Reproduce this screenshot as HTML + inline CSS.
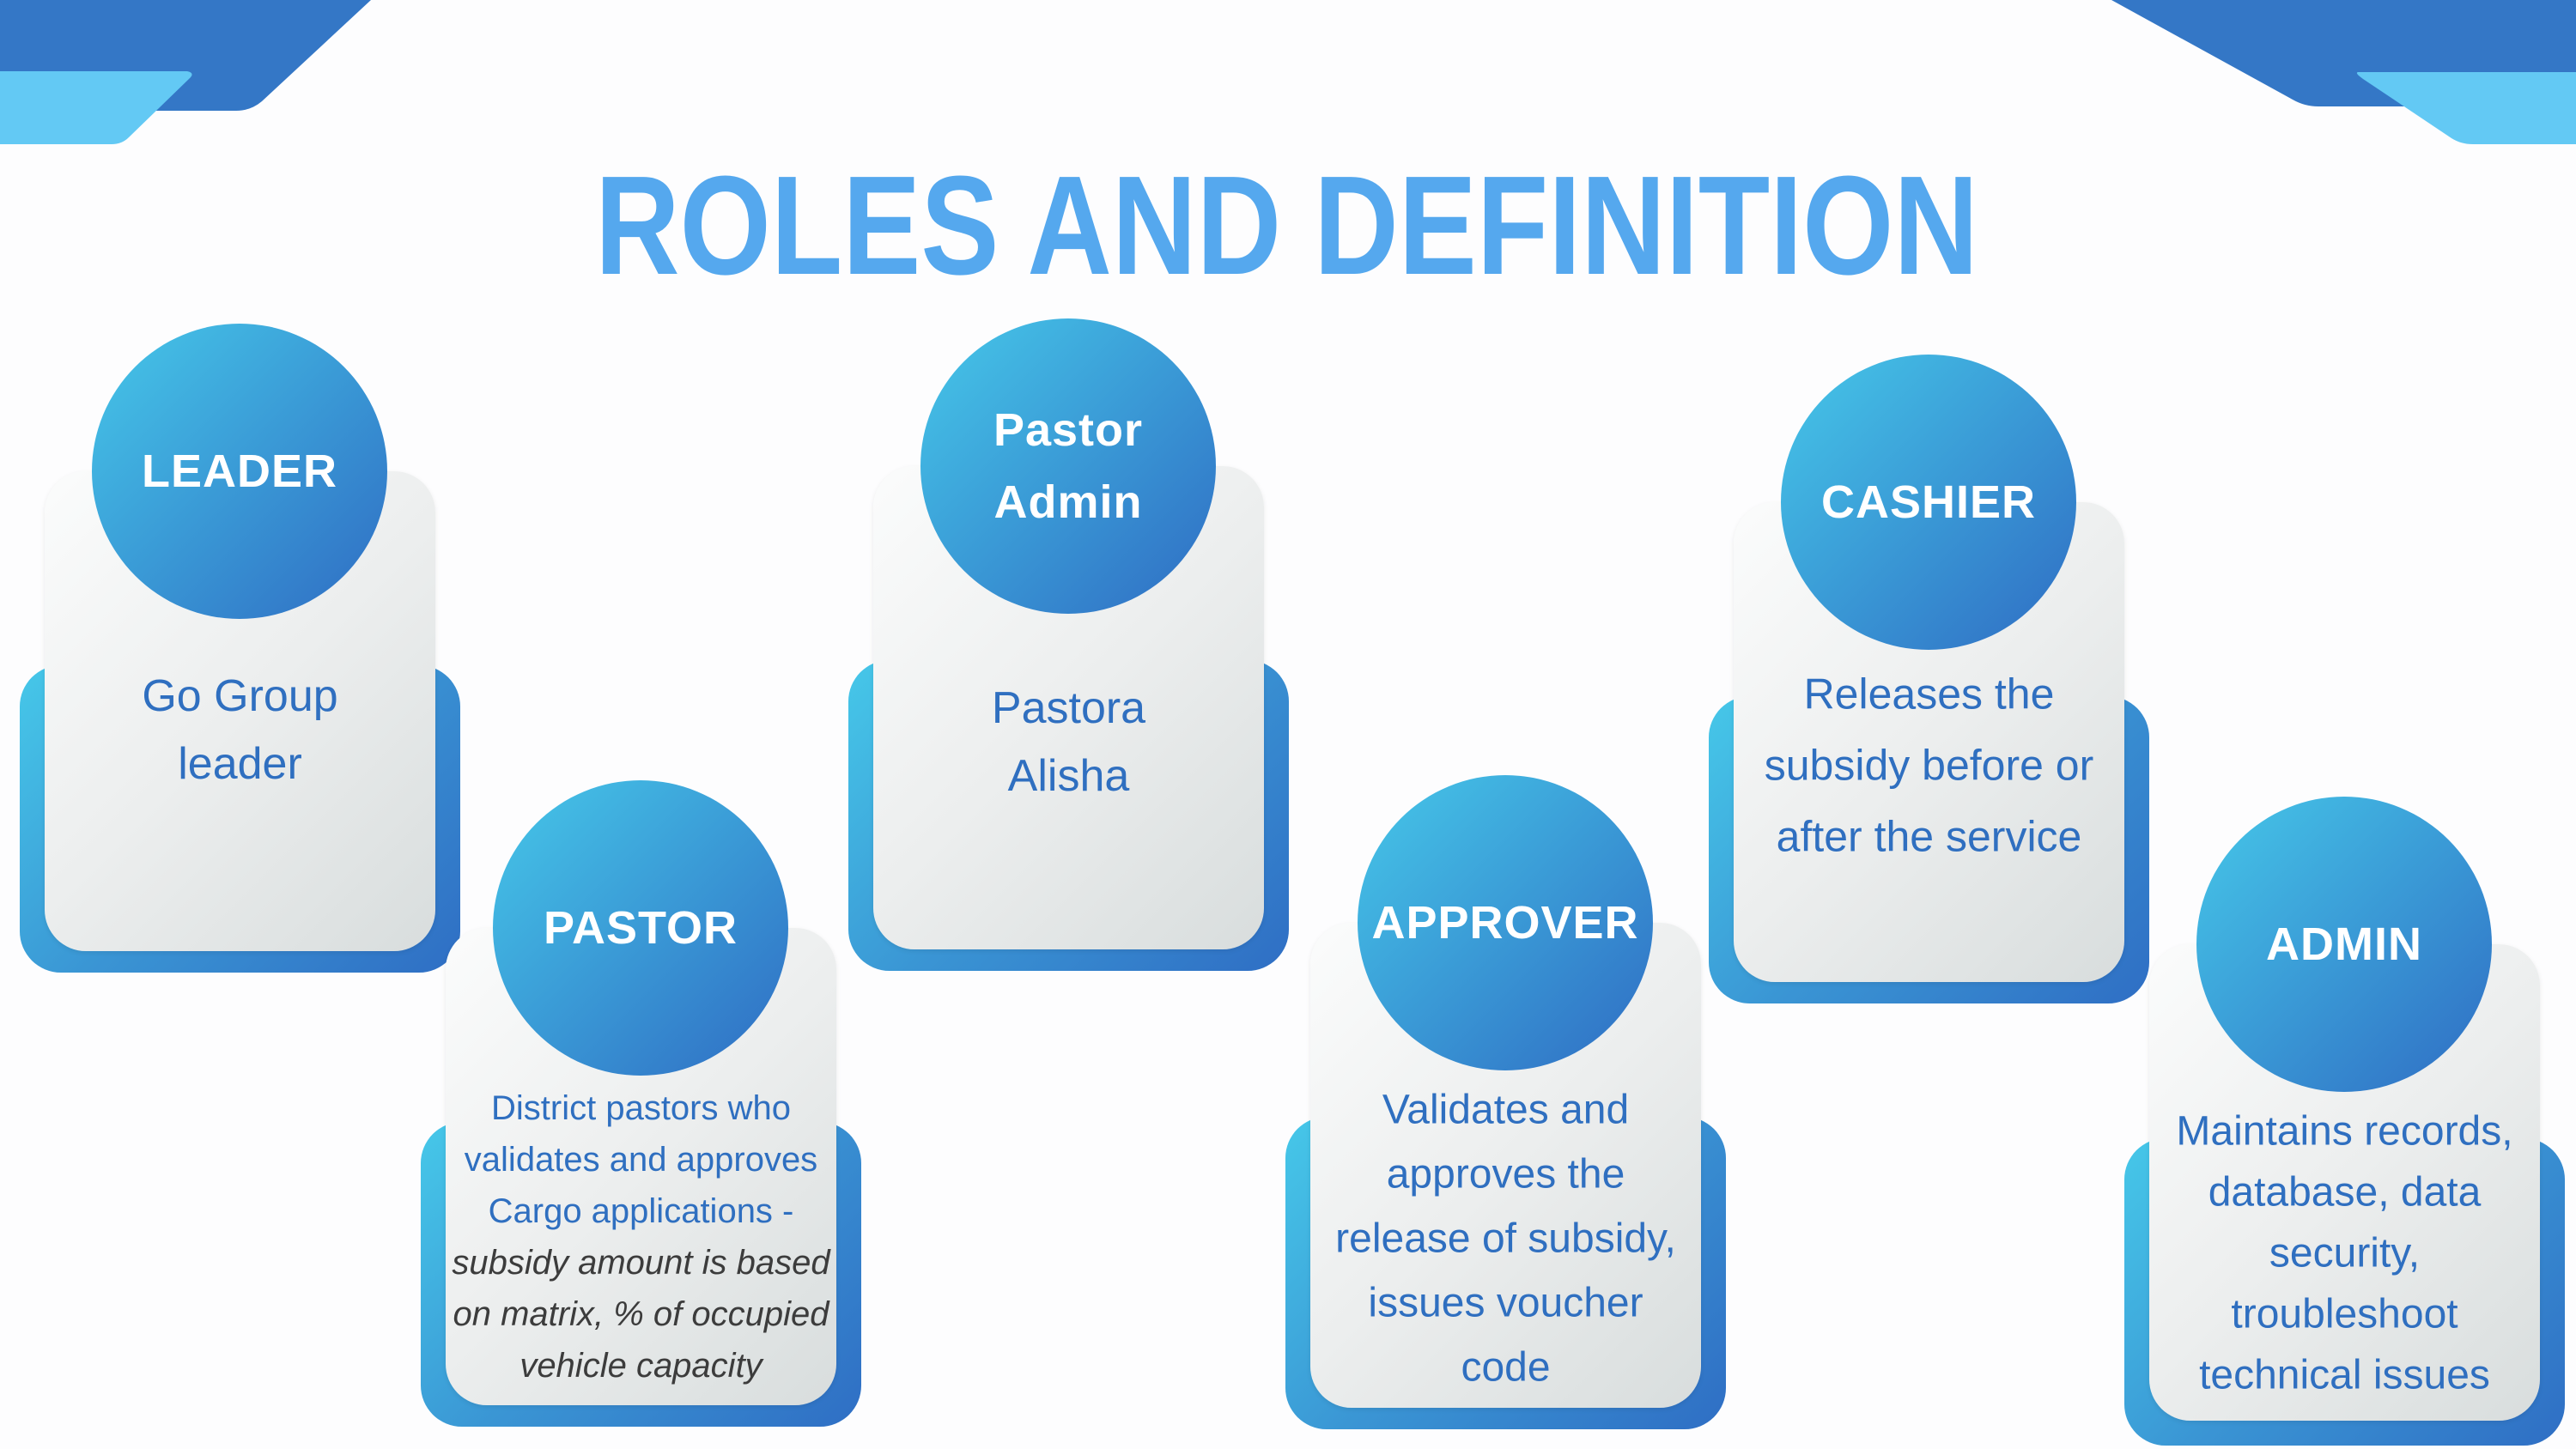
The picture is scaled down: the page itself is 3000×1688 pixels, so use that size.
<!DOCTYPE html>
<html><head><meta charset="utf-8"><style>
html,body{margin:0;padding:0}
body{width:3000px;height:1688px;position:relative;overflow:hidden;background:#fdfdfe;font-family:"Liberation Sans",sans-serif}
.blue{position:absolute;border-radius:48px;background:linear-gradient(135deg,#46c8e9 0%,#3a95d4 50%,#2f6ec4 100%)}
.card{position:absolute;border-radius:48px;background:linear-gradient(135deg,#fbfcfc 0%,#eceeee 50%,#d8dddd 100%);box-shadow:0 2px 6px rgba(0,0,0,.08)}
.circ{position:absolute;width:344px;height:344px;border-radius:50%;background:linear-gradient(135deg,#46c8e9 0%,#3a9ad6 50%,#2f6cc3 100%);color:#fff;font-weight:bold;font-size:54px;display:flex;align-items:center;justify-content:center;text-align:center;line-height:84px;letter-spacing:1px}
.txt{position:absolute;width:455px;text-align:center;color:#2f6fc0;transform:translateY(-50%);white-space:nowrap}
</style></head><body>
<svg width="3000" height="400" style="position:absolute;left:0;top:0">
<path d="M0 0 H432 L305 118 Q292 129 275 129 H0 Z" fill="#3477c6"/>
<path d="M0 83 H218 Q228 85 220 92 L150 160 Q142 168 130 168 H0 Z" fill="#63c9f4"/>
<path d="M2459 0 H3000 V124 H2700 Q2684 124 2670 116 Z" fill="#3477c6"/>
<path d="M2746 84 H3000 V168 H2880 Q2866 168 2855 161 L2752 92 Q2742 85 2746 84 Z" fill="#63c9f4"/>
<text x="693" y="319" textLength="1611" lengthAdjust="spacingAndGlyphs" font-family="Liberation Sans" font-weight="bold" font-size="164" fill="#55a8ee">ROLES AND DEFINITION</text>
</svg>

<div class="blue" style="left:23px;top:775px;width:513px;height:358px"></div>
<div class="card" style="left:52px;top:549px;width:455px;height:559px"></div>
<div class="circ" style="left:107px;top:377px">LEADER</div>
<div class="txt" style="left:52px;top:851px;font-size:52px;line-height:79px">Go Group<br>leader</div>

<div class="blue" style="left:490px;top:1307px;width:513px;height:355px"></div>
<div class="card" style="left:519px;top:1081px;width:455px;height:556px"></div>
<div class="circ" style="left:574px;top:909px">PASTOR</div>
<div class="txt" style="left:514px;width:465px;top:1441px;font-size:40px;line-height:60px">District pastors who<br>validates and approves<br>Cargo applications -<br><i style="color:#3c3c3c">subsidy amount is based<br>on matrix, % of occupied<br>vehicle capacity</i></div>

<div class="blue" style="left:988px;top:769px;width:513px;height:362px"></div>
<div class="card" style="left:1017px;top:543px;width:455px;height:563px"></div>
<div class="circ" style="left:1072px;top:371px">Pastor<br>Admin</div>
<div class="txt" style="left:1017px;top:865px;font-size:52px;line-height:79px">Pastora<br>Alisha</div>

<div class="blue" style="left:1497px;top:1301px;width:513px;height:364px"></div>
<div class="card" style="left:1526px;top:1075px;width:455px;height:565px"></div>
<div class="circ" style="left:1581px;top:903px">APPROVER</div>
<div class="txt" style="left:1526px;top:1443px;font-size:48px;line-height:75px">Validates and<br>approves the<br>release of subsidy,<br>issues voucher<br>code</div>

<div class="blue" style="left:1990px;top:811px;width:513px;height:358px"></div>
<div class="card" style="left:2019px;top:585px;width:455px;height:559px"></div>
<div class="circ" style="left:2074px;top:413px">CASHIER</div>
<div class="txt" style="left:2019px;top:892px;font-size:50px;line-height:83px">Releases the<br>subsidy before or<br>after the service</div>

<div class="blue" style="left:2474px;top:1326px;width:513px;height:358px"></div>
<div class="card" style="left:2503px;top:1100px;width:455px;height:555px"></div>
<div class="circ" style="left:2558px;top:928px">ADMIN</div>
<div class="txt" style="left:2503px;top:1460px;font-size:48px;line-height:71px">Maintains records,<br>database, data<br>security,<br>troubleshoot<br>technical issues</div>
</body></html>
